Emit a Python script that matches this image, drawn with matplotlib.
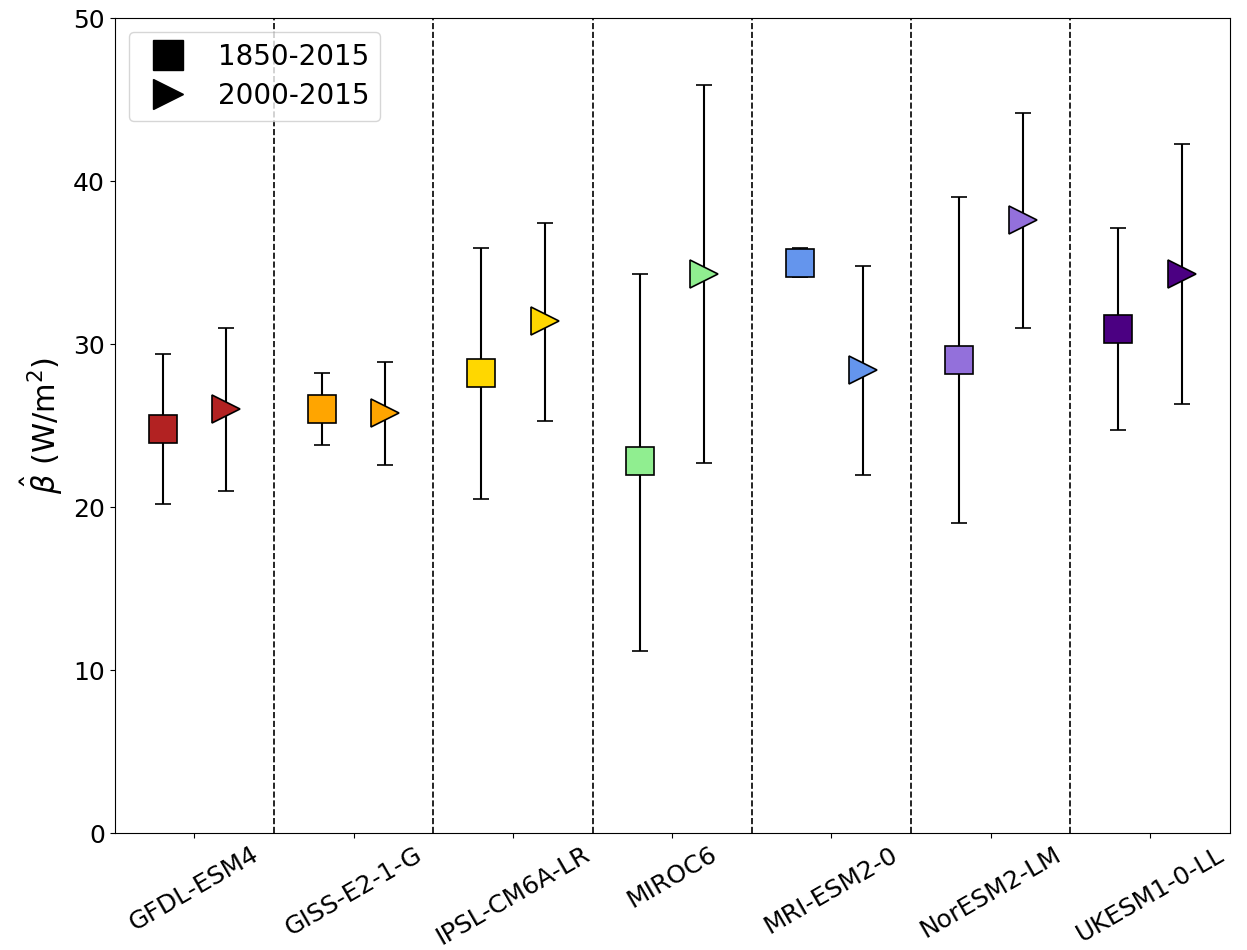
import matplotlib
matplotlib.use("Agg")
import matplotlib.pyplot as plt
from matplotlib.lines import Line2D
import numpy as np

models = ["GFDL-ESM4", "GISS-E2-1-G", "IPSL-CM6A-LR", "MIROC6",
          "MRI-ESM2-0", "NorESM2-LM", "UKESM1-0-LL"]
colors = ["firebrick", "orange", "gold", "lightgreen",
          "cornflowerblue", "mediumpurple", "indigo"]

# 1850-2015 estimates and ranges
beta_long = [24.8, 26.0, 28.2, 22.8, 35.0, 29.0, 30.9]
low_long = [20.2, 23.8, 20.5, 11.2, 34.1, 19.0, 24.7]
high_long = [29.4, 28.2, 35.9, 34.3, 35.9, 39.0, 37.1]

# 2000-2015 estimates and ranges
beta_short = [26.0, 25.8, 31.4, 34.3, 28.4, 37.6, 34.3]
low_short = [21.0, 22.6, 25.3, 22.7, 22.0, 31.0, 26.3]
high_short = [31.0, 28.9, 37.4, 45.9, 34.8, 44.2, 42.3]

fig = plt.figure(figsize=(12.47, 9.5), dpi=100)
ax = fig.add_axes([0.092, 0.123, 0.894, 0.858])

x = np.arange(len(models))
off = 0.2
for i in range(len(models)):
    ax.errorbar(x[i] - off, beta_long[i],
                yerr=[[beta_long[i] - low_long[i]], [high_long[i] - beta_long[i]]],
                fmt='s', color='black', mfc=colors[i], mec='black', mew=1.2,
                markersize=20, capsize=5.5, elinewidth=1.5, capthick=1.5, zorder=3)
    ax.errorbar(x[i] + off, beta_short[i],
                yerr=[[beta_short[i] - low_short[i]], [high_short[i] - beta_short[i]]],
                fmt='>', color='black', mfc=colors[i], mec='black', mew=1.2,
                markersize=20, capsize=5.5, elinewidth=1.5, capthick=1.5, zorder=3)

for i in range(len(models) - 1):
    ax.axvline(x[i] + 0.5, color='black', linestyle='--', linewidth=1.2)

ax.set_xlim(-0.5, len(models) - 0.5)
ax.set_ylim(0, 50)
ax.set_xticks(x)
ax.set_xticklabels(models, rotation=30, fontsize=18)
ax.tick_params(axis='x', pad=3)
ax.tick_params(axis='y', labelsize=18)
ax.set_ylabel(r"$\hat{\beta}$ (W/m$^2$)", fontsize=22, labelpad=6)

handles = [Line2D([], [], marker='s', color='black', linestyle='None', markersize=21),
           Line2D([], [], marker='>', color='black', linestyle='None', markersize=21)]
ax.legend(handles, ["1850-2015", "2000-2015"], loc='upper left', fontsize=20,
          labelspacing=0.4)

fig.savefig("out.png", dpi=100)
